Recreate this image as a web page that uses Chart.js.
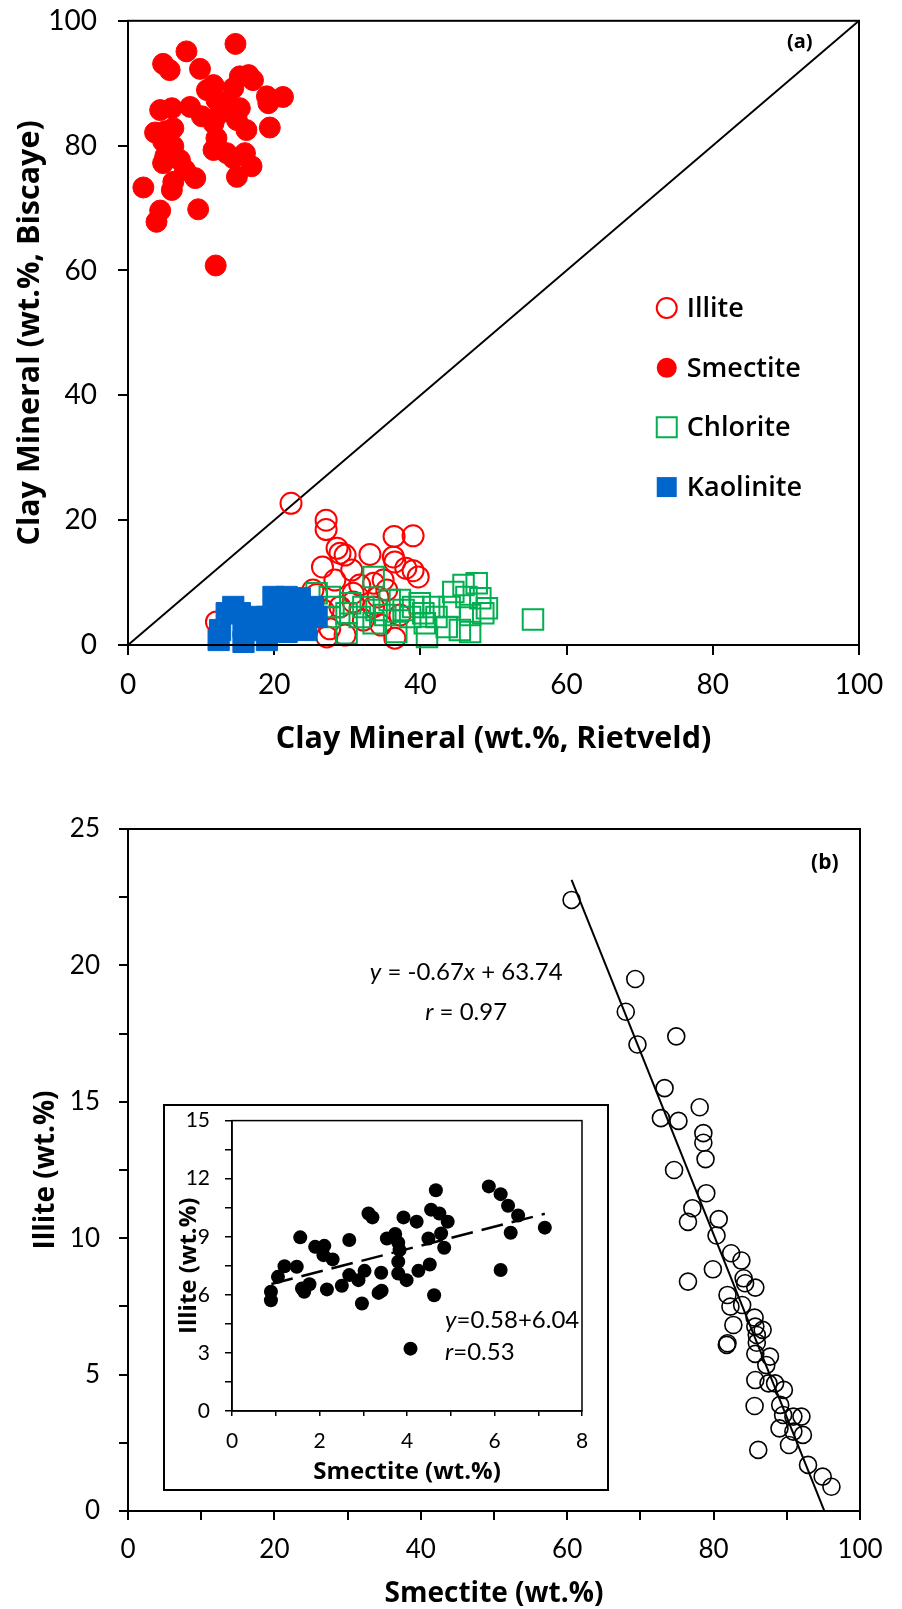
<!DOCTYPE html>
<html>
<head>
<meta charset="utf-8">
<title>Clay mineral comparison</title>
<script src="https://cdn.jsdelivr.net/npm/chart.js@4/dist/chart.umd.min.js"></script>
<style>
  html, body { margin: 0; padding: 0; background: #fff; }
  body { width: 902px; height: 1609px; position: relative; overflow: hidden; }
  canvas { position: absolute; }
  /* canvases start a little above their plot boxes: the top tick label needs room */
  #chartA { left: 0; top: -17px; }
  #chartB { left: 0; top: 770px; }
  #insetBox { position: absolute; left: 163px; top: 1104px; width: 442px; height: 383px;
              border: 2px solid #000; background: #fff; }
  #chartInset { left: 0; top: -13px; }
</style>
</head>
<body>
<canvas id="chartA" width="902" height="787"></canvas>
<canvas id="chartB" width="902" height="839"></canvas>
<div id="insetBox"><canvas id="chartInset" width="442" height="396"></canvas></div>

<script>
'use strict';

// ---- (a) clay minerals, Rietveld (x) vs Biscaye (y), wt.%
const illiteX = [22.3, 27.1, 27.1, 36.4, 39.0, 28.6, 29.0, 29.7, 33.1, 36.3, 36.5, 26.6, 39.0, 38.0,
  39.7, 30.6, 34.9, 28.3, 33.6, 31.7, 25.3, 30.8, 35.4, 34.2, 12.1, 29.7, 36.5, 27.2, 32.2, 30.8,
  29.0, 26.7, 33.6, 37.2, 25.8, 27.6, 34.6];
const illiteY = [22.7, 20.0, 18.5, 17.4, 17.5, 15.5, 14.7, 14.4, 14.5, 14.1, 13.3, 12.5, 11.9, 12.3,
  10.9, 12.0, 10.4, 10.4, 9.9, 9.6, 8.8, 8.3, 8.8, 7.7, 3.7, 1.6, 1.1, 1.3, 4.0, 6.9,
  6.1, 5.6, 6.1, 4.8, 8.1, 2.6, 3.2];

const smectiteX = [14.7, 8.0, 4.8, 5.7, 9.85, 15.3, 16.5, 17.1, 11.7, 10.8, 14.4, 19.0, 21.2, 19.2,
  12.1, 13.5, 15.3, 4.4, 6.0, 8.5, 10.1, 12.6, 11.7, 14.9, 16.2, 19.4, 3.7, 5.1, 6.2, 12.1,
  4.8, 6.2, 11.7, 13.5, 16.0, 5.1, 7.1, 14.4, 16.9, 4.8, 7.8, 9.2, 14.9, 6.2, 6.0, 2.1,
  9.6, 4.4, 3.9, 12.0];
const smectiteY = [96.3, 95.1, 93.1, 92.1, 92.3, 91.1, 91.3, 90.5, 89.7, 88.9, 89.2, 87.9, 87.8, 86.8,
  87.3, 86.8, 86.0, 85.7, 86.0, 86.2, 84.7, 85.2, 83.6, 84.1, 82.5, 82.9, 82.1, 82.3, 82.8, 81.2,
  80.7, 79.9, 79.3, 78.8, 78.8, 78.3, 77.7, 78.0, 76.7, 77.2, 76.1, 74.8, 75.0, 74.2, 72.9, 73.3,
  69.8, 69.6, 67.8, 60.8];

const chloriteX = [55.4, 33.6, 45.9, 47.7, 44.5, 46.3, 48.2, 49.1, 48.6, 46.8, 44.0, 41.8, 39.9, 39.0,
  38.6, 40.4, 42.2, 40.6, 45.4, 46.8, 40.9, 36.7, 29.9, 33.6, 34.0, 32.2, 30.4, 28.1, 27.6, 29.9,
  31.7, 25.8, 27.6, 35.8, 37.2, 37.7, 35.2, 43.6];
const chloriteY = [4.1, 10.9, 9.6, 9.9, 8.5, 7.7, 7.5, 5.9, 5.1, 4.8, 6.1, 6.1, 6.7, 6.1,
  4.5, 5.1, 4.5, 3.5, 2.4, 2.1, 1.3, 2.1, 1.9, 3.5, 5.6, 6.1, 6.7, 6.1, 4.5, 5.1,
  4.5, 8.3, 7.7, 7.2, 7.2, 5.6, 4.8, 2.9];

const kaoliniteX = [12.4, 15.8, 19.0, 13.5, 15.3, 17.1, 19.9, 21.7, 23.5, 25.3, 25.8, 24.4, 21.7, 19.9,
  18.1, 15.8, 12.6, 14.4, 20.8, 23.5, 19.0, 22.6];
const kaoliniteY = [0.8, 0.5, 0.8, 5.1, 5.1, 4.5, 7.7, 7.7, 7.5, 6.1, 4.5, 2.4, 2.1, 2.9,
  2.4, 2.9, 2.4, 6.1, 5.6, 5.1, 4.5, 3.5];

const oneToOne = [0, 100];

// ---- (b) smectite (x) vs illite (y), wt.%
const smectiteB = [60.6, 69.3, 68.0, 69.6, 74.9, 73.3, 78.1, 72.8, 75.2, 78.6, 78.6, 78.9, 74.6, 79.0,
  77.1, 76.5, 80.7, 80.4, 82.4, 83.8, 79.9, 76.5, 84.1, 84.3, 85.7, 81.9, 82.3, 83.9, 85.6, 85.7,
  86.7, 82.7, 85.9, 81.9, 81.8, 85.9, 87.7, 85.7, 87.2, 85.7, 87.5, 88.4, 89.6, 85.6, 89.1, 89.5,
  90.9, 92.0, 89.0, 90.9, 92.2, 90.3, 86.1, 92.9, 94.9, 96.1];
const illiteB = [22.4, 19.5, 18.3, 17.1, 17.4, 15.5, 14.8, 14.4, 14.3, 13.85, 13.5, 12.9, 12.5, 11.65,
  11.1, 10.6, 10.7, 10.1, 9.45, 9.18, 8.86, 8.41, 8.53, 8.35, 8.19, 7.92, 7.49, 7.55, 7.09, 6.76,
  6.64, 6.82, 6.45, 6.15, 6.09, 6.17, 5.66, 5.76, 5.35, 4.80, 4.68, 4.68, 4.44, 3.85, 3.89, 3.52,
  3.46, 3.46, 3.03, 2.91, 2.79, 2.42, 2.24, 1.69, 1.26, 0.89];
const fitB = { slope: -0.67, intercept: 63.74, r: 0.97, from: 60.6, to: 95.1 };

// ---- inset: low-smectite samples
const smectiteInset = [0.89, 0.89, 1.05, 1.20, 1.48, 1.56, 1.60, 1.65, 1.77, 1.90, 2.11, 2.09, 2.30, 2.17,
  2.51, 2.68, 2.68, 2.89, 3.03, 2.97, 3.12, 3.21, 3.41, 3.35, 3.42, 3.54, 3.73, 3.80, 3.83, 3.80,
  3.80, 3.92, 3.99, 4.08, 4.22, 4.26, 4.52, 4.55, 4.49, 4.66, 4.62, 4.74, 4.78, 4.93, 4.85, 5.87,
  6.14, 6.31, 6.54, 6.37, 6.14, 7.15];
const illiteInset = [5.72, 6.16, 6.93, 7.48, 7.45, 8.97, 6.33, 6.16, 6.55, 8.48, 8.53, 8.05, 7.83, 6.28,
  6.47, 8.83, 7.02, 6.76, 7.24, 5.55, 10.2, 10.0, 7.14, 6.10, 6.21, 8.91, 9.14, 8.69, 8.31, 7.71,
  7.10, 10.0, 6.76, 3.22, 9.78, 7.24, 7.57, 10.4, 8.91, 11.4, 5.98, 10.2, 9.17, 9.78, 8.43, 11.6,
  11.2, 10.6, 10.1, 9.21, 7.28, 9.47];
const fitInset = { slope: 0.58, intercept: 6.04, r: 0.53, from: 0.9, to: 7.15 };

const RED = '#ff0000';
const GREEN = '#00b050';
const BLUE = '#0066cc';
const BODY_FONT = 'Lato, "Open Sans", sans-serif';
const TITLE_FONT = '"Open Sans", Lato, sans-serif';

Chart.defaults.font.family = BODY_FONT;
Chart.defaults.color = '#000';

const pairs = (xs, ys) => xs.map((x, i) => ({ x: x, y: ys[i] }));
const fitLine = f => [f.from, f.to].map(x => ({ x: x, y: f.slope * x + f.intercept }));
const near = (v, step) => Math.abs(v / step - Math.round(v / step)) < 1e-6;

// one axis: left/bottom border with outward ticks only
function makeScale(o) {
  return {
    type: 'linear',
    min: o.min,
    max: o.max,
    afterFit: o.horizontal ? s => { s.height = o.size; } : s => { s.width = o.size; },
    border: { display: true, color: '#000', width: o.line },
    grid: { drawOnChartArea: false, drawTicks: true, tickLength: o.tick, color: '#000', lineWidth: o.line },
    ticks: {
      stepSize: o.step, autoSkip: false, maxRotation: 0, padding: o.pad,
      font: { size: o.font }, color: '#000',
      callback: o.label || (v => v)
    },
    title: {
      display: !!o.title, text: o.title, color: '#000',
      font: { family: TITLE_FONT, size: o.titleSize, weight: 'bold', lineHeight: 1 },
      padding: { top: o.titlePad, bottom: o.titlePad }
    }
  };
}

// box frame, free text and the marker key
const panelDecor = {
  id: 'panelDecor',
  afterDraw(chart, args, opts) {
    const { ctx, chartArea: a, scales } = chart;
    ctx.save();
    if (opts.frame) {
      ctx.strokeStyle = '#000';
      ctx.lineWidth = opts.frame;
      ctx.strokeRect(a.left, a.top, a.right - a.left, a.bottom - a.top);
    }
    (opts.notes || []).forEach(n => {
      const px = scales.x.getPixelForValue(n.x);
      const py = scales.y.getPixelForValue(n.y);
      const fontOf = p => `${p[1] || ''} ${n.weight || 'normal'} ${n.size}px ${n.family || BODY_FONT}`;
      let total = 0;
      n.parts.forEach(p => { ctx.font = fontOf(p); total += ctx.measureText(p[0]).width; });
      let cx = n.align === 'center' ? px - total / 2 : px;
      ctx.fillStyle = '#000';
      ctx.textBaseline = 'middle';
      ctx.textAlign = 'left';
      n.parts.forEach(p => {
        ctx.font = fontOf(p);
        ctx.fillText(p[0], cx, py);
        cx += ctx.measureText(p[0]).width;
      });
    });
    if (opts.key) {
      const k = opts.key;
      const kx = scales.x.getPixelForValue(k.x);
      k.items.forEach((it, i) => {
        const ky = scales.y.getPixelForValue(k.y[i]);
        ctx.beginPath();
        if (it.shape === 'circle') {
          ctx.arc(kx, ky, k.r, 0, Math.PI * 2);
        } else {
          ctx.rect(kx - k.r, ky - k.r, 2 * k.r, 2 * k.r);
        }
        if (it.filled) {
          ctx.fillStyle = it.color;
          ctx.fill();
        } else {
          ctx.strokeStyle = it.color;
          ctx.lineWidth = 2;
          ctx.stroke();
        }
        ctx.fillStyle = '#000';
        ctx.font = `600 ${k.size}px ${TITLE_FONT}`;
        ctx.textAlign = 'left';
        ctx.textBaseline = 'middle';
        ctx.fillText(it.label, kx + k.gap, ky + 1);
      });
    }
    ctx.restore();
  }
};

const common = { responsive: false, animation: false, events: [] };

// (a)
new Chart(document.getElementById('chartA'), {
  type: 'scatter',
  data: {
    datasets: [
      { label: 'Illite', data: pairs(illiteX, illiteY), order: 4, clip: false,
        pointStyle: 'circle', pointRadius: 10.5, borderWidth: 2, borderColor: RED, backgroundColor: 'rgba(0,0,0,0)' },
      { label: 'Smectite', data: pairs(smectiteX, smectiteY), order: 3, clip: false,
        pointStyle: 'circle', pointRadius: 10.5, borderWidth: 1, borderColor: RED, backgroundColor: RED },
      { label: 'Chlorite', data: pairs(chloriteX, chloriteY), order: 2, clip: false,
        pointStyle: 'rect', pointRadius: 14.5, borderWidth: 2, borderColor: GREEN, backgroundColor: 'rgba(0,0,0,0)' },
      { label: 'Kaolinite', data: pairs(kaoliniteX, kaoliniteY), order: 1, clip: false,
        pointStyle: 'rect', pointRadius: 15, borderWidth: 1, borderColor: BLUE, backgroundColor: BLUE },
      { label: '1:1', data: pairs(oneToOne, oneToOne), order: 5, showLine: true,
        pointRadius: 0, borderWidth: 2, borderColor: '#000' }
    ]
  },
  options: {
    ...common,
    layout: { autoPadding: false, padding: { left: 0, top: 0, right: 43, bottom: 0 } },
    scales: {
      x: makeScale({ horizontal: true, min: 0, max: 100, step: 20, size: 125, line: 2, tick: 10, pad: 13,
        font: 28, title: 'Clay Mineral (wt.%, Rietveld)', titleSize: 30.5, titlePad: 15 }),
      y: makeScale({ min: 0, max: 100, step: 20, size: 128, line: 2, tick: 10, pad: 21,
        font: 28, title: 'Clay Mineral (wt.%, Biscaye)', titleSize: 30.5, titlePad: 15 })
    },
    plugins: {
      legend: { display: false },
      tooltip: { enabled: false },
      panelDecor: {
        frame: 2,
        notes: [
          { x: 91.9, y: 96.5, size: 20, weight: 'bold', family: TITLE_FONT, align: 'center', parts: [['(a)']] }
        ],
        key: {
          x: 73.7, y: [54.0, 44.4, 34.9, 25.3], r: 10, gap: 20, size: 27,
          items: [
            { label: 'Illite', shape: 'circle', filled: false, color: RED },
            { label: 'Smectite', shape: 'circle', filled: true, color: RED },
            { label: 'Chlorite', shape: 'rect', filled: false, color: GREEN },
            { label: 'Kaolinite', shape: 'rect', filled: true, color: BLUE }
          ]
        }
      }
    }
  },
  plugins: [panelDecor]
});

// (b)
new Chart(document.getElementById('chartB'), {
  type: 'scatter',
  data: {
    datasets: [
      { label: 'Samples', data: pairs(smectiteB, illiteB), clip: false,
        pointStyle: 'circle', pointRadius: 8.5, borderWidth: 1.6, borderColor: '#000', backgroundColor: 'rgba(0,0,0,0)' },
      { label: 'Fit', data: fitLine(fitB), showLine: true, pointRadius: 0, borderWidth: 2, borderColor: '#000' }
    ]
  },
  options: {
    ...common,
    layout: { autoPadding: false, padding: { left: 0, top: 59, right: 42, bottom: 0 } },
    scales: {
      x: makeScale({ horizontal: true, min: 0, max: 100, step: 10, size: 98, line: 2, tick: 9, pad: 14,
        font: 26, label: v => (near(v, 20) ? v : ''),
        title: 'Smectite (wt.%)', titleSize: 28, titlePad: 1 }),
      y: makeScale({ min: 0, max: 25, step: 2.5, size: 128, line: 2, tick: 9, pad: 19,
        font: 26, label: v => (near(v, 5) ? v : ''),
        title: 'Illite (wt.%)', titleSize: 28, titlePad: 32 })
    },
    plugins: {
      legend: { display: false },
      tooltip: { enabled: false },
      panelDecor: {
        frame: 2,
        notes: [
          { x: 95.2, y: 23.76, size: 21, weight: 'bold', family: TITLE_FONT, align: 'center', parts: [['(b)']] },
          { x: 46.2, y: 19.73, size: 24, align: 'center',
            parts: [['y', 'italic'], [' = ' + fitB.slope.toFixed(2)], ['x', 'italic'], [' + ' + fitB.intercept.toFixed(2)]] },
          { x: 46.2, y: 18.3, size: 24, align: 'center',
            parts: [['r', 'italic'], [' = ' + fitB.r.toFixed(2)]] }
        ]
      }
    }
  },
  plugins: [panelDecor]
});

// inset
new Chart(document.getElementById('chartInset'), {
  type: 'scatter',
  data: {
    datasets: [
      { label: 'Samples', data: pairs(smectiteInset, illiteInset), clip: false,
        pointStyle: 'circle', pointRadius: 7, borderWidth: 0, backgroundColor: '#000' },
      { label: 'Fit', data: fitLine(fitInset), showLine: true, pointRadius: 0,
        borderWidth: 2.5, borderDash: [22, 9], borderColor: '#000' }
    ]
  },
  options: {
    ...common,
    layout: { autoPadding: false, padding: { left: 0, top: 0, right: 25, bottom: 0 } },
    scales: {
      x: makeScale({ horizontal: true, min: 0, max: 8, step: 1, size: 78, line: 1.5, tick: 5, pad: 13,
        font: 21, label: v => (near(v, 2) ? v : ''),
        title: 'Smectite (wt.%)', titleSize: 24, titlePad: 5 }),
      y: makeScale({ min: 0, max: 15, step: 1.5, size: 67, line: 1.5, tick: 7, pad: 15,
        font: 21, label: v => (near(v, 3) ? Math.round(v) : ''),
        title: 'Illite (wt.%)', titleSize: 24, titlePad: 12 })
    },
    plugins: {
      legend: { display: false },
      tooltip: { enabled: false },
      panelDecor: {
        frame: 1.5,
        notes: [
          { x: 4.87, y: 4.7, size: 24, align: 'left',
            parts: [['y', 'italic'], ['=' + fitInset.slope.toFixed(2) + '+' + fitInset.intercept.toFixed(2)]] },
          { x: 4.87, y: 3.05, size: 24, align: 'left',
            parts: [['r', 'italic'], ['=' + fitInset.r.toFixed(2)]] }
        ]
      }
    }
  },
  plugins: [panelDecor]
});
</script>
</body>
</html>
